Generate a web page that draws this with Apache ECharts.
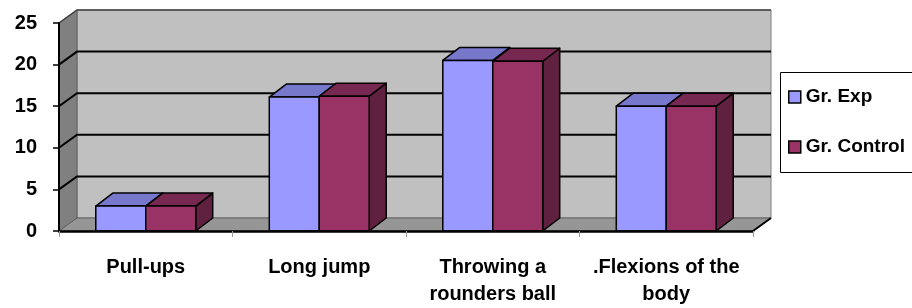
<!DOCTYPE html>
<html>
<head>
<meta charset="utf-8">
<script src="https://cdn.jsdelivr.net/npm/echarts@6/dist/echarts.min.js"></script>
<style>
html, body { margin: 0; padding: 0; background: #fff; }
#chart { width: 912px; height: 308px; }
</style>
</head>
<body>
<div id="chart"></div>
<script>
// data
var categories = ['Pull-ups', 'Long jump', 'Throwing a\nrounders ball', '.Flexions of the\nbody'];
var expValues = [3, 16.1, 20.5, 15];
var controlValues = [3, 16.2, 20.4, 15];
var gridValues = [5, 10, 15, 20, 25];

var FONT = 'Liberation Sans';
var DX = 18, DY = 13;    // depth of the walls
var BDX = 17, BDY = 13;  // depth of the bars

function pairs(arr) {
    return arr.map(function (v, i) { return [i, v]; });
}

// back wall, side wall, floor
function renderWalls(params, api) {
    var cs = params.coordSys;
    var L = cs.x, T = cs.y, R = cs.x + cs.width, B = cs.y + cs.height;
    return {
        type: 'group',
        children: [
            {
                type: 'rect',
                shape: { x: L + DX, y: T - DY, width: R - L, height: B - T },
                style: { fill: '#c0c0c0', stroke: '#808080', lineWidth: 1 }
            },
            {
                type: 'polygon',
                shape: { points: [[L, B], [L + DX, B - DY], [L + DX, T - DY], [L, T]] },
                style: { fill: '#808080', stroke: '#606060', lineWidth: 1 }
            },
            {
                type: 'polygon',
                shape: { points: [[L, B], [R, B], [R + DX, B - DY], [L + DX, B - DY]] },
                style: { fill: '#969696', stroke: '#606060', lineWidth: 1 }
            },
            {
                type: 'line',
                shape: { x1: R, y1: B, x2: R + DX, y2: B - DY },
                style: { stroke: '#000', lineWidth: 2 }
            }
        ]
    };
}

function renderGrid(params, api) {
    var cs = params.coordSys;
    var L = cs.x, R = cs.x + cs.width;
    var y = api.coord([0, api.value(0)])[1];
    var top = api.value(0) === 25;
    return {
        type: 'polyline',
        shape: { points: [[L, y], [L + DX, y - DY], [R + DX, y - DY]] },
        style: { stroke: top ? '#404040' : '#000', lineWidth: top ? 1.5 : 2, fill: null }
    };
}

function makeBar(side, front, topc, sidec) {
    return function (params, api) {
        var cat = api.value(0);
        var p = api.coord([cat, api.value(1)]);
        var b = api.coord([cat, 0]);
        var w = api.size([1, 0])[0] * 0.288;
        var x0 = side < 0 ? p[0] - w : p[0];
        var x1 = x0 + w;
        var y = p[1], yb = b[1];
        var st = { stroke: '#000', lineWidth: 1.5, lineJoin: 'round' };
        return {
            type: 'group',
            children: [
                {
                    type: 'polygon',
                    shape: { points: [[x1, y], [x1 + BDX, y - BDY], [x1 + BDX, yb - BDY], [x1, yb]] },
                    style: Object.assign({ fill: sidec }, st)
                },
                {
                    type: 'polygon',
                    shape: { points: [[x0, y], [x0 + BDX, y - BDY], [x1 + BDX, y - BDY], [x1, y]] },
                    style: Object.assign({ fill: topc }, st)
                },
                {
                    type: 'rect',
                    shape: { x: x0, y: y, width: w, height: yb - y },
                    style: Object.assign({ fill: front }, st)
                }
            ]
        };
    };
}

var chart = echarts.init(document.getElementById('chart'));
chart.setOption({
    animation: false,
    backgroundColor: '#fff',
    textStyle: { fontFamily: FONT },
    grid: { left: 59, right: 159, top: 23, bottom: 77 },
    legend: {
        orient: 'vertical',
        left: 788,
        top: 87,
        padding: 0,
        icon: 'rect',
        itemWidth: 12,
        itemHeight: 12,
        itemGap: 30,
        textStyle: { fontFamily: FONT, fontWeight: 'bold', fontSize: 19, color: '#000', lineHeight: 20 },
        data: [
            { name: 'Gr. Exp', itemStyle: { color: '#9999ff', borderColor: '#000', borderWidth: 1.5 } },
            { name: 'Gr. Control', itemStyle: { color: '#993366', borderColor: '#000', borderWidth: 1.5 } }
        ]
    },
    graphic: [{
        type: 'rect',
        shape: { x: 780.5, y: 72.5, width: 200, height: 100 },
        style: { fill: 'none', stroke: '#000', lineWidth: 1 },
        z: -1
    }],
    xAxis: {
        type: 'category',
        data: categories,
        z: 10,
        axisLine: { lineStyle: { color: '#000', width: 2.5 } },
        axisTick: { show: true, length: 6, lineStyle: { color: '#999', width: 1 } },
        axisLabel: {
            interval: 0, margin: 23, fontFamily: FONT, fontWeight: 'bold',
            fontSize: 20, color: '#000', lineHeight: 27
        }
    },
    yAxis: {
        type: 'value',
        min: 0,
        max: 25,
        interval: 5,
        z: 10,
        axisLine: { show: true, lineStyle: { color: '#000', width: 2 } },
        axisTick: { show: true, length: 6, lineStyle: { color: '#000', width: 1.5 } },
        splitLine: { show: false },
        axisLabel: { margin: 22, fontFamily: FONT, fontWeight: 'bold', fontSize: 20, color: '#000' }
    },
    series: [
        {
            type: 'custom',
            name: 'walls',
            z: 1,
            silent: true,
            renderItem: renderWalls,
            data: [[0, 0]]
        },
        {
            type: 'custom',
            name: 'grid',
            z: 1,
            silent: true,
            renderItem: renderGrid,
            encode: { y: 0 },
            data: gridValues.map(function (v) { return [v]; })
        },
        {
            type: 'custom',
            name: 'Gr. Exp',
            z: 2,
            itemStyle: { color: '#9999ff' },
            renderItem: makeBar(-1, '#9999ff', '#7777cc', '#6666aa'),
            data: pairs(expValues)
        },
        {
            type: 'custom',
            name: 'Gr. Control',
            z: 3,
            itemStyle: { color: '#993366' },
            renderItem: makeBar(1, '#993366', '#772850', '#602040'),
            data: pairs(controlValues)
        }
    ]
});
</script>
</body>
</html>
